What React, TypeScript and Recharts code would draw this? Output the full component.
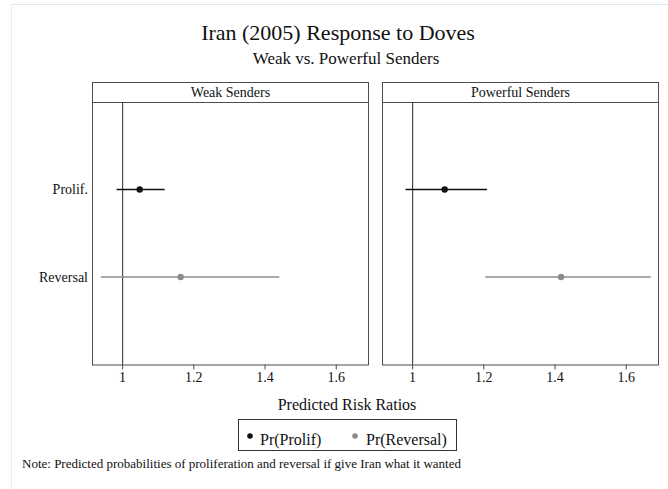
import React from "react";
import { ScatterChart, Scatter, XAxis, YAxis, ErrorBar, ReferenceLine } from "recharts";

// Panels and outcome rows
const panelTitles = ["Weak Senders", "Powerful Senders"];
const outcomeLabels = ["Prolif.", "Reversal"];

// Predicted risk ratios with confidence bounds, one entry per panel
const prolifEstimate = [1.048, 1.09];
const prolifLower = [0.983, 0.98];
const prolifUpper = [1.118, 1.209];
const reversalEstimate = [1.163, 1.417];
const reversalLower = [0.939, 1.204];
const reversalUpper = [1.44, 1.669];

const xTicks = [1, 1.2, 1.4, 1.6];
const xDomain: [number, number] = [0.914, 1.692];

const legendLabels = ["Pr(Prolif)", "Pr(Reversal)"];
const noteText = "Note: Predicted probabilities of proliferation and reversal if give Iran what it wanted";

const FONT = "'Liberation Serif', 'Times New Roman', serif";
const PROLIF_COLOR = "#111111";
const REVERSAL_COLOR = "#8c8c8c";
const FRAME = "#4d4d4d";

const PANEL_LEFT = [92, 382];
const PANEL_WIDTH = 277;
const HEADER_TOP = 82;
const PLOT_TOP = 102;
const PLOT_BOTTOM = 364.5;
const CHART_HEIGHT = 400;
const X_AXIS_HEIGHT = 30;

const row = (est: number, lo: number, hi: number, y: number) => ({
  x: est,
  y,
  err: [est - lo, hi - est],
});

const Dot = (color: string) => (p: any) => (
  <circle cx={p.cx} cy={p.cy} r={3.2} fill={color} />
);

function Panel({ index }: { index: number }) {
  const first = index === 0;
  const prolifData = [row(prolifEstimate[index], prolifLower[index], prolifUpper[index], 1)];
  const reversalData = [row(reversalEstimate[index], reversalLower[index], reversalUpper[index], 2)];
  const chartLeft = first ? 0 : PANEL_LEFT[index];
  const chartWidth = PANEL_LEFT[index] + PANEL_WIDTH - chartLeft;
  return (
    <div style={{ position: "absolute", left: chartLeft, top: 0 }}>
      <ScatterChart
        width={chartWidth}
        height={CHART_HEIGHT}
        margin={{ top: PLOT_TOP, right: 0, left: 0, bottom: CHART_HEIGHT - PLOT_BOTTOM - X_AXIS_HEIGHT }}
      >
        <XAxis
          type="number"
          dataKey="x"
          domain={xDomain}
          ticks={xTicks}
          height={X_AXIS_HEIGHT}
          axisLine={false}
          tickSize={5}
          tickMargin={3}
          tickLine={{ stroke: FRAME }}
          tick={{ fill: "#111", fontSize: 14, fontFamily: FONT }}
        />
        <YAxis
          type="number"
          dataKey="y"
          domain={[0, 3]}
          reversed
          ticks={[1, 2]}
          hide={!first}
          width={92}
          axisLine={false}
          tickLine={false}
          tickSize={0}
          tickMargin={4}
          tickFormatter={(v: number) => outcomeLabels[v - 1]}
          tick={{ fill: "#111", fontSize: 14, fontFamily: FONT }}
        />
        <ReferenceLine x={1} stroke="#3c3c3c" strokeWidth={1.1} />
        <Scatter data={reversalData} isAnimationActive={false} shape={Dot(REVERSAL_COLOR)}>
          <ErrorBar dataKey="err" direction="x" width={0} stroke={REVERSAL_COLOR} strokeWidth={1.4} />
        </Scatter>
        <Scatter data={prolifData} isAnimationActive={false} shape={Dot(PROLIF_COLOR)}>
          <ErrorBar dataKey="err" direction="x" width={0} stroke={PROLIF_COLOR} strokeWidth={1.5} />
        </Scatter>
      </ScatterChart>
    </div>
  );
}

export default function App() {
  return (
    <div
      style={{
        position: "absolute",
        left: 0,
        top: 0,
        width: 668,
        height: 489,
        background: "#fff",
        overflow: "hidden",
        fontFamily: FONT,
      }}
    >
      <svg width={668} height={489} style={{ position: "absolute", left: 0, top: 0 }}>
        <line x1={11} y1={4.5} x2={668} y2={4.5} stroke="#dbe8ed" />
        <line x1={11.5} y1={4} x2={11.5} y2={489} stroke="#e6eef1" />
        <text x={338} y={40} textAnchor="middle" fontSize={22} fill="#111">
          Iran (2005) Response to Doves
        </text>
        <text x={346} y={64} textAnchor="middle" fontSize={17} fill="#111">
          Weak vs. Powerful Senders
        </text>
        {panelTitles.map((t, i) => (
          <g key={t}>
            <rect
              x={PANEL_LEFT[i] + 0.5}
              y={HEADER_TOP + 0.5}
              width={PANEL_WIDTH - 1}
              height={PLOT_TOP - HEADER_TOP}
              fill="none"
              stroke={FRAME}
            />
            <rect
              x={PANEL_LEFT[i] + 0.5}
              y={PLOT_TOP + 0.5}
              width={PANEL_WIDTH - 1}
              height={PLOT_BOTTOM - PLOT_TOP}
              fill="none"
              stroke={FRAME}
            />
            <text
              x={PANEL_LEFT[i] + PANEL_WIDTH / 2}
              y={97}
              textAnchor="middle"
              fontSize={14}
              fill="#111"
            >
              {t}
            </text>
          </g>
        ))}
        <text x={347} y={410} textAnchor="middle" fontSize={16} fill="#111">
          Predicted Risk Ratios
        </text>
        <rect x={238.5} y={419.5} width={218} height={31} fill="none" stroke="#333" />
        <circle cx={250} cy={436} r={2.8} fill={PROLIF_COLOR} />
        <text x={260} y={445} fontSize={16} fill="#111">
          {legendLabels[0]}
        </text>
        <circle cx={355} cy={436} r={2.8} fill={REVERSAL_COLOR} />
        <text x={366} y={445} fontSize={16} fill="#111">
          {legendLabels[1]}
        </text>
        <text x={22} y={468} fontSize={13} fill="#111">
          {noteText}
        </text>
      </svg>
      {panelTitles.map((t, i) => (
        <Panel key={t} index={i} />
      ))}
    </div>
  );
}
